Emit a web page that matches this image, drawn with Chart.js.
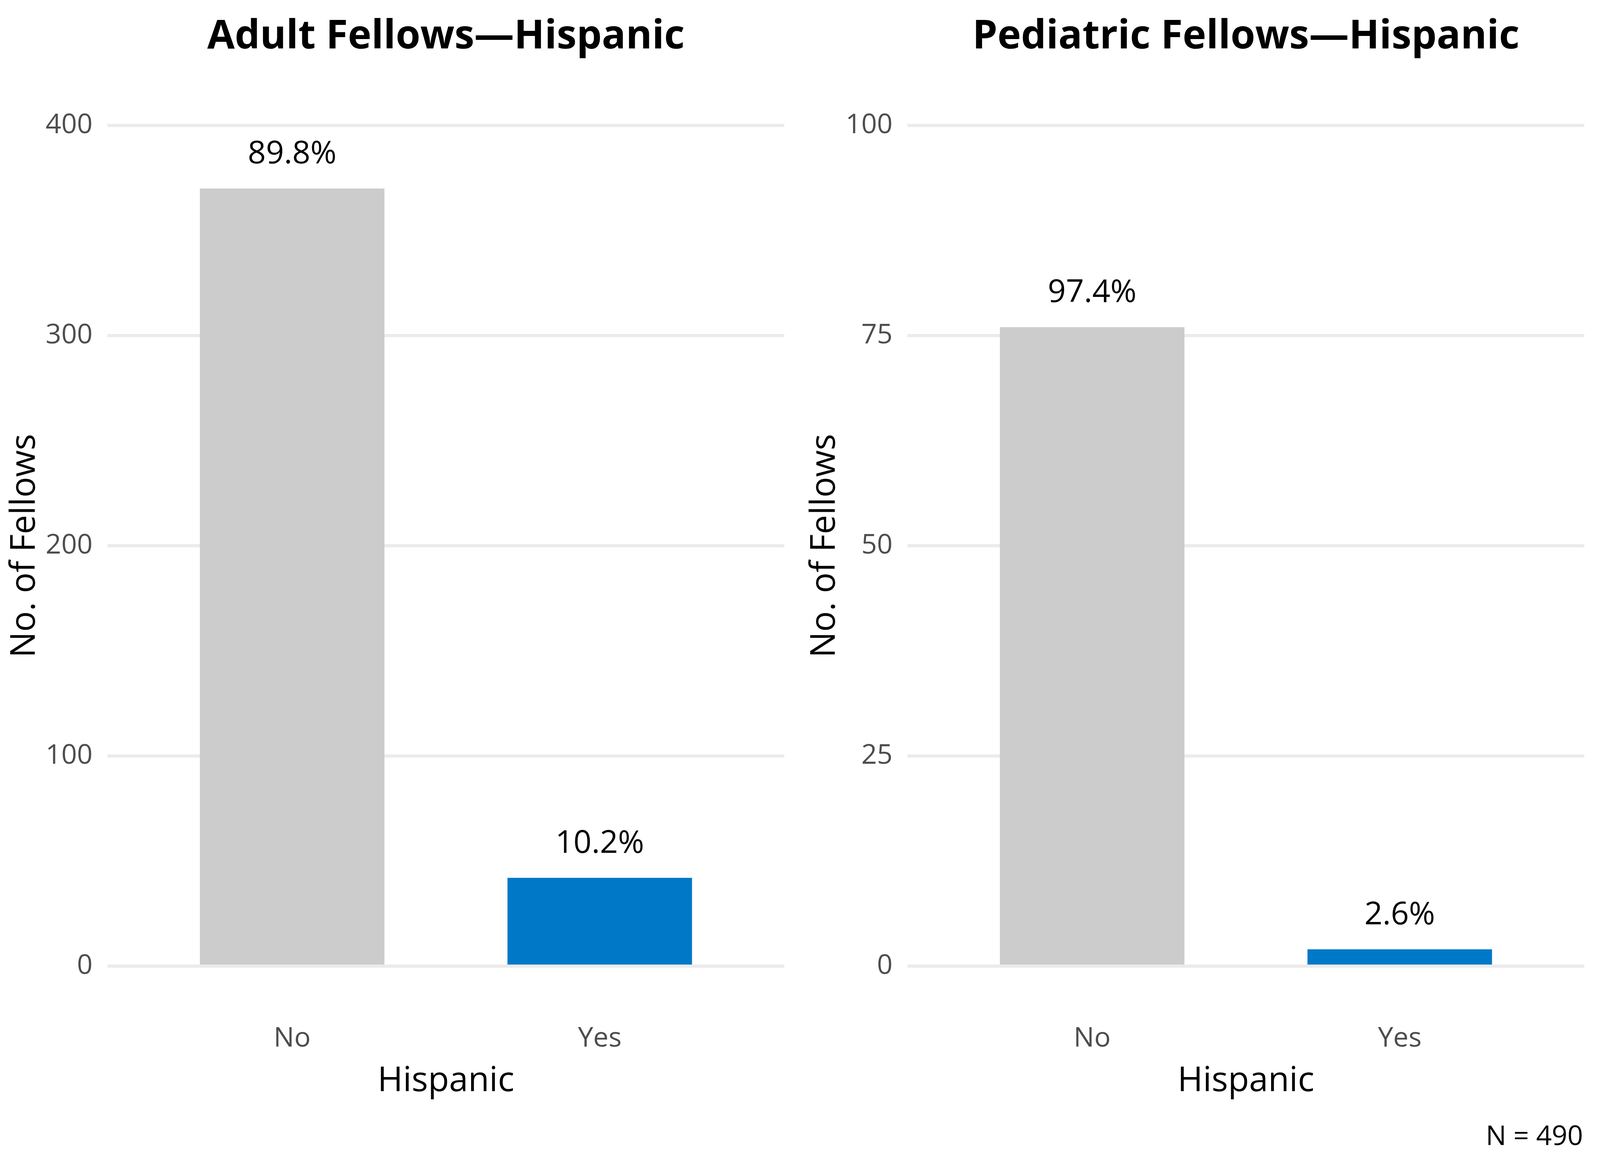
<!DOCTYPE html>
<html>
<head>
<meta charset="utf-8">
<script src="https://cdn.jsdelivr.net/npm/chart.js@4/dist/chart.umd.min.js"></script>
<style>
  html, body { margin: 0; padding: 0; background: #ffffff; overflow: hidden; }
  #wrap { display: flex; }
  canvas { display: block; flex: none; }
</style>
</head>
<body>
<div id="wrap">
  <canvas id="c1"></canvas>
  <canvas id="c2"></canvas>
</div>
<script>
// ---- data ----
const categories = ["No", "Yes"];
const adultCounts = [370, 42];
const adultPercents = ["89.8%", "10.2%"];
const pediatricCounts = [76, 2];
const pediatricPercents = ["97.4%", "2.6%"];
const adultTicks = [0, 100, 200, 300, 400];
const pediatricTicks = [0, 25, 50, 75, 100];
const barColors = ["#CCCCCC", "#0078C8"];
const adultTitle = "Adult Fellows\u2014Hispanic";
const pediatricTitle = "Pediatric Fellows\u2014Hispanic";
const xTitle = "Hispanic";
const yTitle = "No. of Fellows";
const noteText = "N = 490";

const FONT = "'Open Sans', 'Noto Sans', sans-serif";

// fit the 5100x3000 design into the actual window
const W = Math.min(window.innerWidth || 5100, 5100);
const H = Math.min(window.innerHeight || 3000, 3000);
const sx = W / 5100, sy = H / 3000;
const fs = Math.sqrt(sx * sy);
const X = v => v * sx, Y = v => v * sy, F = v => Math.round(v * fs);
const PW = Math.floor(W / 2);

['c1', 'c2'].forEach(id => {
  const c = document.getElementById(id);
  c.width = PW; c.height = H;
  c.style.width = PW + 'px'; c.style.height = H + 'px';
});

const barLabelPlugin = {
  id: 'barLabels',
  afterDatasetsDraw(chart) {
    const o = chart.options.plugins.barLabels;
    const meta = chart.getDatasetMeta(0);
    const ctx = chart.ctx;
    ctx.save();
    ctx.font = F(90) + "px " + FONT;
    ctx.fillStyle = "#000000";
    ctx.textAlign = "center";
    ctx.textBaseline = "alphabetic";
    meta.data.forEach((bar, i) => {
      ctx.fillText(o.labels[i], bar.x, bar.y - Y(64));
    });
    if (o.note) {
      ctx.font = F(78) + "px " + FONT;
      ctx.textAlign = "right";
      ctx.fillText(o.note, chart.width - X(54), Y(2931));
    }
    ctx.restore();
  }
};

function makeChart(id, counts, percents, ticks, title, note) {
  const ymax = ticks[ticks.length - 1];
  const titleSize = F(114), yTitleSize = F(98);
  return new Chart(document.getElementById(id), {
    type: 'bar',
    data: {
      datasets: [{
        data: counts.map((v, i) => ({ x: i + 1, y: v })),
        backgroundColor: barColors,
        borderWidth: 0,
        barPercentage: 0.6,
        categoryPercentage: 1.0
      }]
    },
    options: {
      responsive: false,
      animation: false,
      devicePixelRatio: 1,
      layout: { padding: { left: 0, right: X(50), top: 0, bottom: Y(147) } },
      plugins: {
        legend: { display: false },
        tooltip: { enabled: false },
        title: {
          display: true,
          text: title,
          fullSize: false,
          color: "#000000",
          font: { family: FONT, size: titleSize, weight: 'bold', lineHeight: 1.2 },
          padding: { top: Y(95) - titleSize * 0.6, bottom: Y(321) - Y(95) - titleSize * 0.6 }
        },
        barLabels: { labels: percents, note: note }
      },
      scales: {
        x: {
          type: 'linear',
          offset: false,
          min: 0.4,
          max: 2.6,
          afterBuildTicks: (s) => { s.ticks = categories.map((c, i) => ({ value: i + 1 })); },
          afterFit: (s) => { s.height = Y(380); },
          grid: { display: false, drawTicks: false, offset: false },
          border: { display: false },
          ticks: {
            callback: (v) => categories[Math.round(v) - 1],
            color: "#4D4D4D",
            font: { family: FONT, size: F(78), lineHeight: 1.2 },
            padding: Y(186) - F(78) * 0.6,
            maxRotation: 0,
            autoSkip: false
          },
          title: {
            display: true,
            text: xTitle,
            color: "#000000",
            font: { family: FONT, size: F(98), lineHeight: 1.2 },
            padding: { top: 0, bottom: Y(380) - Y(295) - F(98) * 0.6 }
          }
        },
        y: {
          min: 0,
          max: ymax,
          afterBuildTicks: (s) => { s.ticks = ticks.map(v => ({ value: v })); },
          afterFit: (s) => { s.width = X(343); },
          grid: { color: "#EBEBEB", lineWidth: Math.max(2, Y(8)), drawTicks: false },
          border: { display: false },
          ticks: {
            color: "#4D4D4D",
            font: { family: FONT, size: F(78), lineHeight: 1.2 },
            padding: X(48)
          },
          title: {
            display: true,
            text: yTitle,
            color: "#000000",
            font: { family: FONT, size: yTitleSize, lineHeight: 1.2 },
            padding: { top: Math.max(0, X(80) - yTitleSize * 0.6), bottom: 0 }
          }
        }
      }
    },
    plugins: [barLabelPlugin]
  });
}

makeChart('c1', adultCounts, adultPercents, adultTicks, adultTitle, null);
makeChart('c2', pediatricCounts, pediatricPercents, pediatricTicks, pediatricTitle, noteText);
</script>
</body>
</html>
